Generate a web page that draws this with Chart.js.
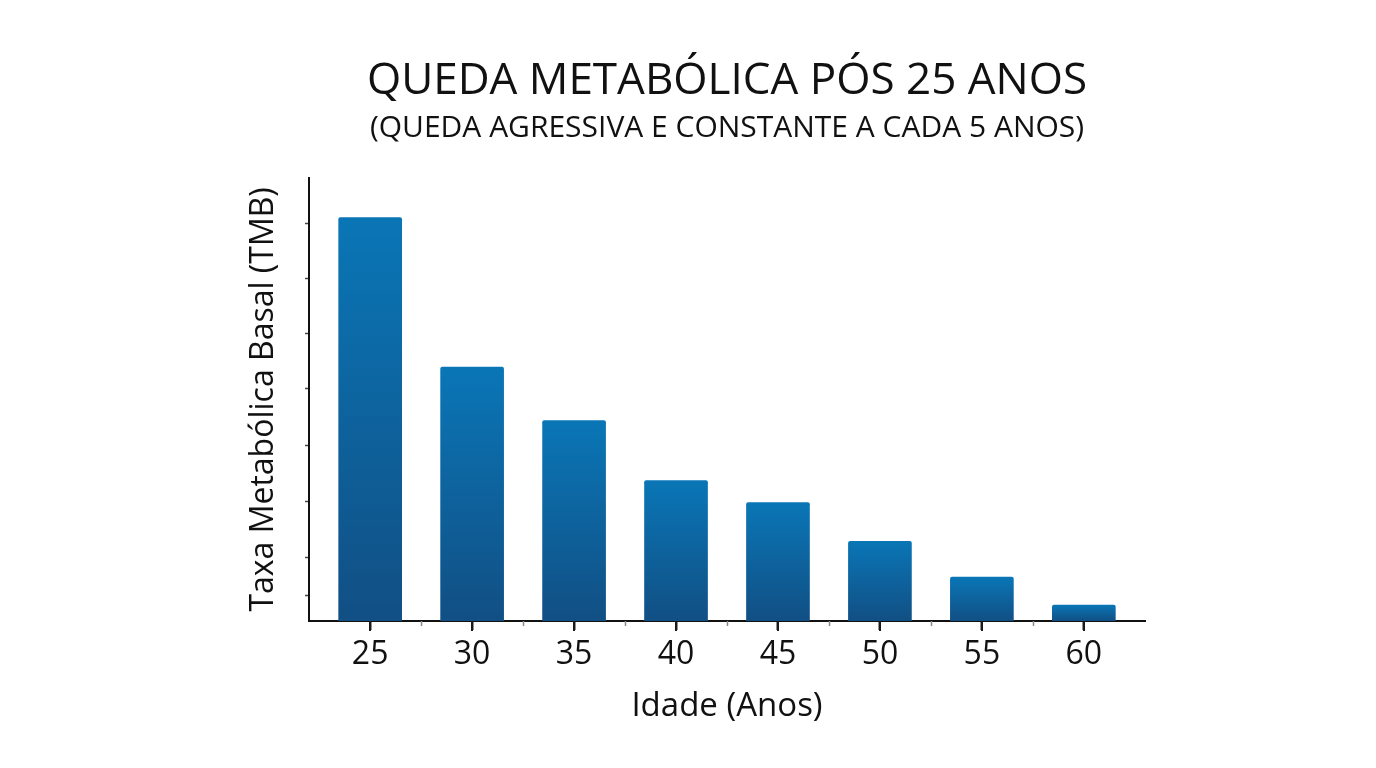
<!DOCTYPE html>
<html>
<head>
<meta charset="utf-8">
<script src="https://cdn.jsdelivr.net/npm/chart.js@4.4.1/dist/chart.umd.min.js"></script>
<style>
html,body{margin:0;padding:0;background:#fff;}
#wrap{width:1376px;height:768px;}
</style>
</head>
<body>
<div id="wrap"><canvas id="c" width="1376" height="768"></canvas></div>
<script>
const ages = [25, 30, 35, 40, 45, 50, 55, 60];
const tmb = [91, 57.3, 45.2, 31.7, 26.7, 18, 9.9, 3.6];
const yTickValues = [5.8, 14.4, 27, 39.6, 52.4, 64.9, 77.3, 89.7];
const xMinorTicks = [27.5, 32.5, 37.5, 42.5, 47.5, 52.5, 57.5];
const titleText = 'QUEDA METABÓLICA PÓS 25 ANOS';
const subtitleText = '(QUEDA AGRESSIVA E CONSTANTE A CADA 5 ANOS)';
const xTitle = 'Idade (Anos)';
const yTitle = 'Taxa Metabólica Basal (TMB)';

const FONT = "'Open Sans', 'Noto Sans', sans-serif";

function barGradient(ctx) {
  const chart = ctx.chart;
  const y = chart.scales.y;
  if (!y || ctx.dataIndex === undefined) return '#0a6aa8';
  const top = y.getPixelForValue(tmb[ctx.dataIndex]);
  const base = y.getPixelForValue(0);
  if (!isFinite(top) || !isFinite(base) || top === base) return '#0a6aa8';
  const g = chart.ctx.createLinearGradient(0, top, 0, base);
  g.addColorStop(0, '#0a76b6');
  g.addColorStop(1, '#114f84');
  return g;
}

const xTickMarksPlugin = {
  id: 'xTickMarks',
  afterDraw(chart) {
    const x = chart.scales.x;
    const c = chart.ctx;
    const y0 = chart.chartArea.bottom;
    c.save();
    c.lineWidth = 1.5;
    c.strokeStyle = '#888';
    xMinorTicks.forEach(v => {
      const px = Math.round(x.getPixelForValue(v)) + 0.5;
      c.beginPath();
      c.moveTo(px, y0);
      c.lineTo(px, y0 + 5);
      c.stroke();
    });
    c.lineWidth = 2;
    c.strokeStyle = '#1a1a1a';
    ages.forEach(v => {
      const px = Math.round(x.getPixelForValue(v));
      c.beginPath();
      c.moveTo(px, y0);
      c.lineTo(px, y0 + 10);
      c.stroke();
    });
    c.restore();
  }
};

new Chart(document.getElementById('c'), {
  type: 'bar',
  data: {
    datasets: [{
      data: ages.map((a, i) => ({x: a, y: tmb[i]})),
      backgroundColor: barGradient,
      borderWidth: 0,
      borderRadius: 2,
      borderSkipped: 'bottom',
      barThickness: 63
    }]
  },
  options: {
    responsive: false,
    animation: false,
    devicePixelRatio: 1,
    layout: {padding: {left: 245, right: 231, top: 55, bottom: 42}},
    plugins: {
      legend: {display: false},
      tooltip: {enabled: false},
      title: {
        display: true, text: titleText, fullSize: false,
        color: '#111', font: {family: FONT, size: 44, weight: 'normal'},
        padding: {top: 0, bottom: 3}
      },
      subtitle: {
        display: true, text: subtitleText, fullSize: false,
        color: '#111', font: {family: FONT, size: 30, weight: 'normal'},
        padding: {top: 0, bottom: 31}
      }
    },
    scales: {
      x: {
        type: 'linear', min: 22, max: 63, offset: false,
        afterBuildTicks(s) { s.ticks = ages.map(v => ({value: v})); },
        grid: {offset: false, drawOnChartArea: false, drawTicks: true, tickLength: 9, tickColor: '#222', tickWidth: 2},
        border: {display: true, color: '#111', width: 2},
        ticks: {color: '#111', font: {family: FONT, size: 32}, padding: 6},
        title: {display: true, text: xTitle, color: '#111', font: {family: FONT, size: 33}, padding: {top: 6, bottom: 0}}
      },
      y: {
        min: 0, max: 100,
        afterBuildTicks(s) { s.ticks = yTickValues.map(v => ({value: v})); },
        afterFit(s) { s.width = 64; },
        grid: {drawOnChartArea: false, drawTicks: true, tickLength: 4, tickColor: '#444', tickWidth: 1.5},
        border: {display: true, color: '#111', width: 2},
        ticks: {display: false},
        title: {display: true, text: yTitle, color: '#111', font: {family: FONT, size: 32}, padding: 0}
      }
    }
  },
  plugins: [xTickMarksPlugin]
});
</script>
</body>
</html>
